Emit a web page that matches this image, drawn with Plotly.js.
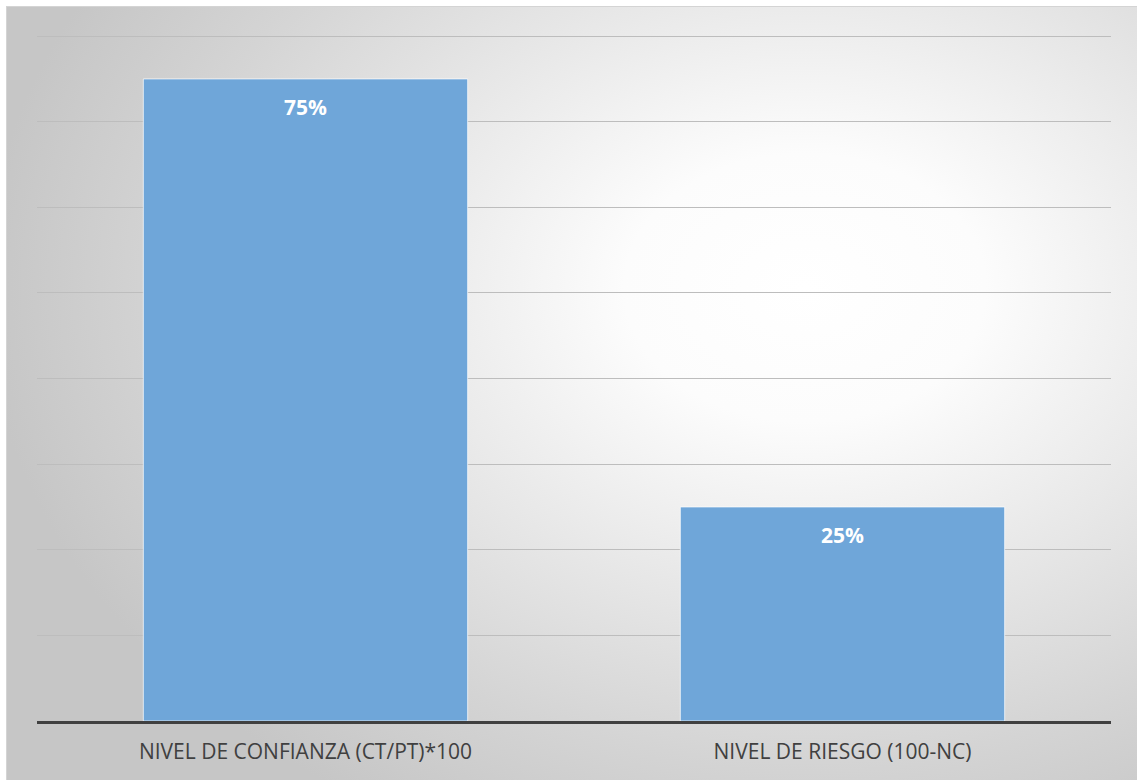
<!DOCTYPE html>
<html>
<head>
<meta charset="utf-8">
<script src="https://cdn.plot.ly/plotly-3.0.1.min.js"></script>
<style>
html,body{margin:0;padding:0;width:1137px;height:780px;overflow:hidden;background:#ffffff;}
#frame{position:absolute;left:6px;top:6px;width:1140px;height:780px;border:1px solid #d4d4d4;
background:radial-gradient(ellipse 72% 78% at 70% 36%, #ffffff 0%, #fcfcfc 22%, #e8e8e8 50%, #d4d4d4 78%, #c6c6c6 100%);}
#chart{position:absolute;left:0;top:0;width:1137px;height:780px;}
</style>
</head>
<body>
<div id="frame"></div>
<div id="chart"></div>
<script>
const categories = ["NIVEL DE CONFIANZA (CT/PT)*100", "NIVEL DE RIESGO (100-NC)"];
const values = [0.75, 0.25];
const labels = ["75%", "25%"];

const trace = {
  type: 'bar',
  x: categories,
  y: values,
  marker: {color: '#6fa6d9', line: {color: 'rgba(255,255,255,0.7)', width: 1}},
  hoverinfo: 'skip'
};

const annotations = categories.map((c, i) => ({
  x: c, y: values[i], xref: 'x', yref: 'y',
  text: '<b>' + labels[i] + '</b>', showarrow: false,
  yshift: -28, font: {family: '"Open Sans", sans-serif', size: 21, color: '#ffffff'}
}));

const layout = {
  width: 1137, height: 780,
  margin: {l: 37, r: 26, t: 19, b: 59},
  paper_bgcolor: 'rgba(0,0,0,0)',
  plot_bgcolor: 'rgba(0,0,0,0)',
  bargap: 0.396,
  showlegend: false,
  xaxis: {
    showline: true, linecolor: '#404040', linewidth: 3,
    showgrid: false, ticks: '', ticklabelstandoff: 10,
    tickfont: {family: '"Open Sans", sans-serif', size: 21, color: '#404040'}
  },
  yaxis: {
    range: [0, 0.82], dtick: 0.1, showticklabels: false,
    showgrid: true, gridcolor: '#bdbdbd', gridwidth: 1,
    zeroline: false, fixedrange: true
  },
  annotations: annotations
};

Plotly.newPlot('chart', [trace], layout, {displayModeBar: false, staticPlot: true});
</script>
</body>
</html>
